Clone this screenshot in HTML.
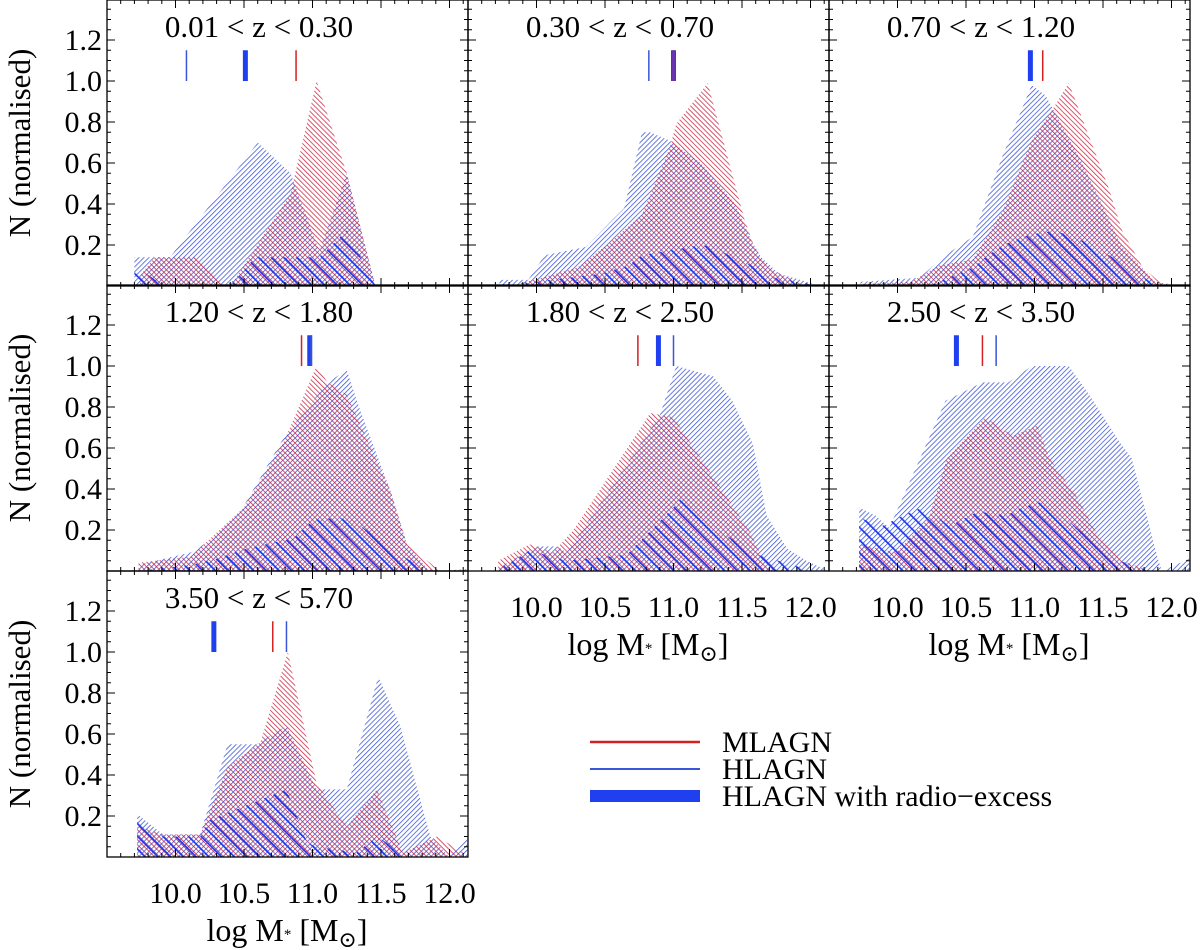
<!DOCTYPE html>
<html><head><meta charset="utf-8"><style>
html,body{margin:0;padding:0;background:#fff;}
svg{display:block;font-family:"Liberation Serif","DejaVu Serif",serif;}
svg text{font-family:"Liberation Serif","DejaVu Serif",serif;}
</style></head><body>
<svg id="chart" width="1200" height="950" viewBox="0 0 1200 950" xmlns="http://www.w3.org/2000/svg">
<defs>
<pattern id="hatchBlue" patternUnits="userSpaceOnUse" width="3.5" height="3.5" patternTransform="rotate(45)">
<line x1="0" y1="0" x2="0" y2="3.5" stroke="#3550d8" stroke-width="1.5"/></pattern>
<pattern id="hatchRed" patternUnits="userSpaceOnUse" width="3.5" height="3.5" patternTransform="rotate(-45)">
<line x1="0" y1="0" x2="0" y2="3.5" stroke="#cc2040" stroke-width="1.5"/></pattern>
<pattern id="hatchRadio" patternUnits="userSpaceOnUse" width="9" height="9" patternTransform="rotate(-45)">
<line x1="0" y1="0" x2="0" y2="9" stroke="#2038f0" stroke-width="3.4"/></pattern>
</defs>
<g id="root"></g>
</svg>
<script>
// ---- data (log M*, normalised N) ----
const titles = ["0.01 < z < 0.30","0.30 < z < 0.70","0.70 < z < 1.20","1.20 < z < 1.80","1.80 < z < 2.50","2.50 < z < 3.50","3.50 < z < 5.70"];
const hlagn1 = [[9.70,.14],[9.96,.14],[10.60,.70],[10.84,.55],[11.05,.17],[11.25,.55],[11.46,0]];
const mlagn1 = [[9.74,.05],[9.85,.14],[10.14,.14],[10.36,0],[10.43,.03],[10.84,.45],[11.03,1.0],[11.25,.55],[11.46,0]];
const radio1 = [[9.70,.10],[9.92,0],[10.40,0],[10.58,.14],[11.05,.14],[11.25,.27],[11.46,0]];
const hlagn2 = [[9.73,.03],[9.94,.03],[10.06,.15],[10.36,.19],[10.55,.32],[10.64,.38],[10.77,.75],[10.83,.75],[10.97,.71],[11.2,.6],[11.45,.4],[11.57,.22],[11.64,.14],[11.77,.06],[12.03,.01]];
const mlagn2 = [[9.86,.01],[10.04,.04],[10.30,.09],[10.55,.22],[10.77,.35],[10.97,.67],[11.02,.79],[11.25,.99],[11.35,.74],[11.52,.32],[11.59,.19],[11.69,.09],[11.93,.01]];
const radio2 = [[9.86,.01],[10.47,.06],[10.67,.10],[10.77,.15],[11.20,.20],[11.28,.19],[11.57,.10],[11.74,.04],[12.00,.01]];
const hlagn3 = [[9.73,.02],[10.16,.04],[10.35,.15],[10.55,.24],[10.77,.64],[10.98,.98],[11.08,.93],[11.35,.6],[11.64,.19],[11.70,.15],[11.88,.02],[12.08,0]];
const mlagn3 = [[9.73,.01],[10.10,.02],[10.30,.10],[10.55,.13],[10.77,.37],[10.98,.71],[11.14,.87],[11.25,.99],[11.54,.48],[11.64,.27],[11.79,.09],[11.93,.01]];
const radio3 = [[10.23,0],[10.55,.09],[10.64,.14],[10.77,.20],[10.96,.25],[11.15,.27],[11.35,.22],[11.57,.14],[11.79,.04],[11.93,0]];
const hlagn4 = [[9.73,.03],[10.11,.09],[10.28,.16],[10.50,.32],[10.79,.65],[11.11,.92],[11.25,.98],[11.35,.78],[11.57,.39],[11.69,.13],[11.84,.01],[11.93,0],[12.13,.01]];
const mlagn4 = [[9.73,.04],[10.11,.07],[10.50,.31],[10.79,.63],[11.03,1.0],[11.11,.92],[11.25,.86],[11.57,.39],[11.69,.13],[11.93,0]];
const radio4 = [[9.73,0],[10.11,.03],[10.30,.06],[10.52,.11],[10.86,.16],[11.01,.25],[11.20,.26],[11.35,.22],[11.54,.13],[11.64,.08],[11.84,0]];
const hlagn5 = [[9.71,.01],[10.00,.12],[10.15,.12],[10.22,.09],[10.90,.76],[11.02,1.0],[11.29,.95],[11.43,.83],[11.58,.62],[11.68,.27],[11.83,.11],[11.97,.05],[12.13,0]];
const mlagn5 = [[9.72,.05],[9.95,.13],[10.12,.09],[10.27,.20],[10.83,.77],[11.00,.75],[11.14,.61],[11.56,.19],[11.63,.09],[11.73,.01]];
const radio5 = [[9.73,.01],[9.95,.10],[10.22,.05],[10.66,.08],[11.00,.31],[11.05,.35],[11.32,.20],[11.61,.08],[11.97,.01]];
const hlagn6 = [[9.72,.31],[9.84,.27],[9.94,.21],[10.35,.83],[10.62,.92],[10.81,.92],[10.98,1.0],[11.25,1.0],[11.40,.86],[11.62,.63],[11.71,.55],[11.90,.06],[11.93,0],[12.13,.06]];
const mlagn6 = [[9.72,.13],[9.99,.09],[10.23,.26],[10.36,.55],[10.64,.75],[10.84,.66],[11.02,.71],[11.11,.55],[11.32,.35],[11.45,.19],[11.64,.05],[11.84,0]];
const radio6 = [[9.72,.26],[9.89,.22],[10.04,.27],[10.18,.31],[10.38,.22],[10.59,.29],[10.79,.27],[10.91,.31],[11.06,.34],[11.20,.27],[11.40,.16],[11.62,.05],[11.84,0]];
const hlagn7 = [[9.72,.21],[9.91,.11],[10.18,.11],[10.38,.55],[10.59,.55],[10.81,.64],[11.03,.33],[11.25,.33],[11.48,.88],[11.64,.64],[11.86,.10],[12.00,0],[12.13,.10]];
const mlagn7 = [[9.72,.15],[9.91,.11],[10.18,.11],[10.38,.44],[10.62,.56],[10.82,1.0],[11.03,.36],[11.25,.15],[11.47,.33],[11.66,.02],[11.91,.10],[12.10,.02]];
const radio7 = [[9.72,.18],[9.91,.10],[10.18,.10],[10.25,.18],[10.81,.33],[10.96,.07],[11.03,.05],[11.32,.02],[11.47,.10],[11.66,.02]];
// median markers
const medHL = [10.08,10.82,null,10.99,11.00,10.72,10.81];
const medRadio = [10.51,11.00,10.97,10.98,10.89,10.43,10.28];
const medML = [10.88,11.00,11.06,10.92,10.74,10.62,10.71];
const yTicks = [0.2,0.4,0.6,0.8,1.0,1.2];
const xTicks = [10.0,10.5,11.0,11.5,12.0];

const HL=[hlagn1,hlagn2,hlagn3,hlagn4,hlagn5,hlagn6,hlagn7];
const ML=[mlagn1,mlagn2,mlagn3,mlagn4,mlagn5,mlagn6,mlagn7];
const RA=[radio1,radio2,radio3,radio4,radio5,radio6,radio7];

const NS="http://www.w3.org/2000/svg";
const root=document.getElementById('root');
function mk(tag,attrs,parent){const e=document.createElementNS(NS,tag);for(const k in attrs)e.setAttribute(k,attrs[k]);(parent||root).appendChild(e);return e;}
const colL=[107,468,829], rowT=[0,285,571], W=361, H=286, XMIN=9.5, PXD=137, PYU=205;
const pos=[[0,0],[1,0],[2,0],[0,1],[1,1],[2,1],[0,2]];

pos.forEach((p,i)=>{
  const L=colL[p[0]], T=rowT[p[1]], B=T+H;
  const sx=m=>L+(m-XMIN)*PXD, sy=v=>B-v*PYU;
  const g=mk('g',{});
  
  
  const cp=mk('clipPath',{id:'cp'+i},g); mk('rect',{x:L,y:T,width:W,height:H},cp);
  const gc=mk('g',{'clip-path':'url(#cp'+i+')'},g);
  [[HL[i],'hatchBlue','hlagn-area'],[ML[i],'hatchRed','mlagn-area'],[RA[i],'hatchRadio','radio-excess-area']].forEach(s=>{
    const d=s[0]; let pts=sx(d[0][0])+','+B;
    d.forEach(q=>{pts+=' '+sx(q[0])+','+sy(q[1]);});
    pts+=' '+sx(d[d.length-1][0])+','+B;
    const poly=mk('polygon',{points:pts,fill:'url(#'+s[1]+')'},gc);
    
    
  });
  const y1=sy(1.0), y2=sy(1.15);
  if(medRadio[i]!=null){const m=mk('line',{x1:sx(medRadio[i]),x2:sx(medRadio[i]),y1:y1,y2:y2,stroke:'#2040f0','stroke-width':5},g);
    }
  if(medHL[i]!=null){const m=mk('line',{x1:sx(medHL[i]),x2:sx(medHL[i]),y1:y1,y2:y2,stroke:'#3a55d8','stroke-width':1.5},g);
    }
  if(medML[i]!=null){const m=mk('line',{x1:sx(medML[i]),x2:sx(medML[i]),y1:y1,y2:y2,stroke:i==1?'#8030a0':'#d42020','stroke-width':i==1?3:1.5,'stroke-opacity':i==1?0.8:1},g);
    }
  const fr=mk('rect',{x:L,y:T,width:W,height:H,fill:'none',stroke:'#000','stroke-width':1.3},g);
  
  let td='';
  for(let v=0.05;v<1.39;v+=0.05){const y=sy(v);const maj=Math.abs(v*5-Math.round(v*5))<0.01;const l=maj?8:4;td+=`M${L},${y}h${l}M${L+W},${y}h${-l}`;}
  for(let m=9.6;m<12.14;m+=0.1){const x=sx(m);const maj=Math.abs(m*2-Math.round(m*2))<0.01;const l=maj?8:4;td+=`M${x},${B}v${-l}M${x},${T}v${l}`;}
  mk('path',{d:td,stroke:'#000','stroke-width':1,fill:'none'},g);
  const tt=mk('text',{x:L+152,y:T+37,'text-anchor':'middle','font-size':31},g);tt.textContent=titles[i];
  
  if(p[0]==0){
    yTicks.forEach(v=>{const t=mk('text',{x:L-5,y:sy(v)+10,'text-anchor':'end','font-size':30},g);t.textContent=v.toFixed(1);
      });
    const yl=mk('text',{x:0,y:0,transform:`translate(30,${T+H/2}) rotate(-90)`,'text-anchor':'middle','font-size':31},g);yl.textContent='N (normalised)';
    
  }
  if(i>=4){
    xTicks.forEach(v=>{const t=mk('text',{x:sx(v),y:B+46,'text-anchor':'middle','font-size':30},g);t.textContent=v.toFixed(1);
      });
    const xl=mk('text',{x:L+180,y:B+84,'text-anchor':'middle','font-size':32},g);
    xl.innerHTML='log M<tspan font-size="15" dy="-2">*</tspan><tspan dy="2"> [M</tspan><tspan font-size="22" dy="6">⊙</tspan><tspan dy="-6">]</tspan>';
    
  }
});
const lg=mk('g',{});


[['MLAGN','#d42020',2.5,742],['HLAGN','#3a55d8',2,769],['HLAGN with radio−excess','#2040f0',12,796]].forEach(e=>{
  const ge=mk('g',{},lg);
  
  
  mk('line',{x1:590,x2:700,y1:e[3],y2:e[3],stroke:e[1],'stroke-width':e[2]},ge);
  const t=mk('text',{x:722,y:e[3]+10,'font-size':30},ge);t.textContent=e[0];
});
</script>
</body></html>
